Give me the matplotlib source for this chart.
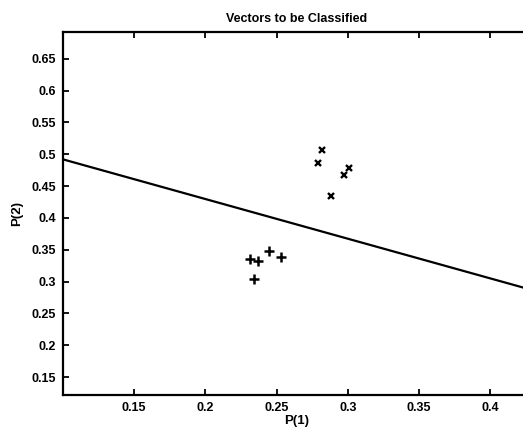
import numpy as np
import matplotlib
matplotlib.use("Agg")
import matplotlib.pyplot as plt

plt.rcParams['font.family'] = ['Liberation Sans', 'DejaVu Sans']

# Input vectors, class 1 (upper cluster)
class1_p1 = [0.282, 0.279, 0.288, 0.297, 0.301]
class1_p2 = [0.506, 0.487, 0.434, 0.468, 0.478]

# Input vectors, class 0 (lower cluster)
class0_p1 = [0.231, 0.237, 0.245, 0.253, 0.234]
class0_p2 = [0.336, 0.333, 0.348, 0.339, 0.304]

# Decision boundary of the perceptron
boundary_p1 = [0.10, 0.45]
boundary_p2 = [0.492, 0.274]

xticks = [0.15, 0.2, 0.25, 0.3, 0.35, 0.4]
xticklabels = ['0.15', '0.2', '0.25', '0.3', '0.35', '0.4']
yticks = [0.15, 0.2, 0.25, 0.3, 0.35, 0.4, 0.45, 0.5, 0.55, 0.6, 0.65]
yticklabels = ['0.15', '0.2', '0.25', '0.3', '0.35', '0.4', '0.45', '0.5',
               '0.55', '0.6', '0.65']

W, H = 523, 436
fig = plt.figure(figsize=(W / 100, H / 100), dpi=100)
left, right, top, bottom = 63, 530, 32, 395
ax = fig.add_axes([left / W, 1 - bottom / H, (right - left) / W, (bottom - top) / H])

ax.plot(boundary_p1, boundary_p2, color='black', lw=1.6)
ax.plot(class0_p1, class0_p2, linestyle='none', marker='+', color='black',
        markersize=6.5, markeredgewidth=1.8)
ax.plot(class1_p1, class1_p2, linestyle='none', marker='x', color='black',
        markersize=4.5, markeredgewidth=1.7)

ax.set_xlim(0.1, 0.1 + (right - left) / 1424)
ax.set_ylim(0.122, 0.692)
ax.set_xticks(xticks)
ax.set_xticklabels(xticklabels)
ax.set_yticks(yticks)
ax.set_yticklabels(yticklabels)

for s in ['left', 'bottom', 'top']:
    ax.spines[s].set_linewidth(1.6)
ax.spines['right'].set_visible(False)

ax.tick_params(direction='in', length=4, width=1.3, top=True, right=False,
               labelsize=9, pad=5)
for lab in ax.get_xticklabels() + ax.get_yticklabels():
    lab.set_fontweight('bold')

ax.set_title('Vectors to be Classified', fontsize=9, fontweight='bold', pad=7)
ax.set_xlabel('P(1)', fontsize=9.5, fontweight='bold', labelpad=1)
ax.set_ylabel('P(2)', fontsize=9.5, fontweight='bold', labelpad=6)

fig.savefig('out.png', dpi=100)
